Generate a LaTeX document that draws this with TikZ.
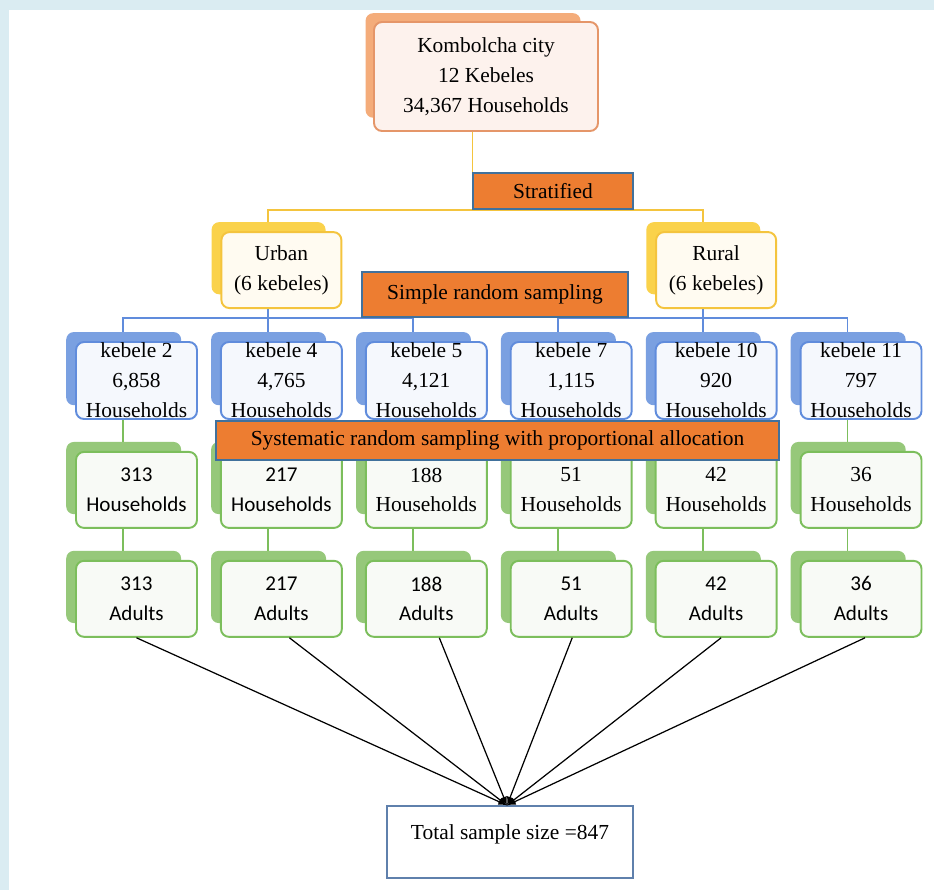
\documentclass[tikz,border=0pt]{standalone}
\usepackage{fontspec}
\setmainfont{Liberation Serif}
\newfontfamily\calibri{Carlito}
\usepackage{tikz}
\usetikzlibrary{positioning,shadows,backgrounds}
\definecolor{pageblue}{RGB}{218,236,242}
\definecolor{orangeback}{RGB}{244,172,122}
\definecolor{orangefront}{RGB}{253,242,237}
\definecolor{orangeline}{RGB}{229,150,105}
\definecolor{yellowback}{RGB}{250,210,75}
\definecolor{yellowfront}{RGB}{255,251,241}
\definecolor{yellowline}{RGB}{244,196,62}
\definecolor{blueback}{RGB}{122,160,225}
\definecolor{bluefront}{RGB}{245,248,253}
\definecolor{blueline}{RGB}{96,140,220}
\definecolor{greenback}{RGB}{150,200,122}
\definecolor{greenfront}{RGB}{248,250,246}
\definecolor{greenline}{RGB}{124,190,92}
\definecolor{method}{RGB}{237,125,49}
\definecolor{methodline}{RGB}{65,113,156}
\definecolor{totalline}{RGB}{95,128,172}
\tikzset{
  box/.style={rectangle, rounded corners=0.16cm, line width=1.1pt, align=center,
    inner sep=0pt, font=\fontsize{12.2}{17}\selectfont},
  citybox/.style={box, draw=orangeline, fill=orangefront, minimum width=4.48cm, minimum height=2.18cm,
    general shadow={fill=orangeback, shadow xshift=-0.27cm, shadow yshift=0.23cm, shadow scale=0.96}},
  zonebox/.style={box, draw=yellowline, fill=yellowfront, minimum width=2.4cm, minimum height=1.52cm,
    general shadow={fill=yellowback, shadow xshift=-0.27cm, shadow yshift=0.25cm, shadow scale=0.95}},
  kebbox/.style={box, draw=blueline, fill=bluefront, minimum width=2.42cm, minimum height=1.54cm,
    general shadow={fill=blueback, shadow xshift=-0.27cm, shadow yshift=0.25cm, shadow scale=0.95}},
  sampbox/.style={box, draw=greenline, fill=greenfront, minimum width=2.42cm, minimum height=1.52cm,
    general shadow={fill=greenback, shadow xshift=-0.27cm, shadow yshift=0.25cm, shadow scale=0.95}},
  sansbox/.style={sampbox, font=\calibri\fontsize{12}{17}\selectfont},
  methodbox/.style={rectangle, draw=methodline, line width=0.9pt, fill=method, inner sep=0pt,
    font=\fontsize{12.2}{17}\selectfont},
  yline/.style={draw=yellowline, line width=1.1pt},
  bline/.style={draw=blueline, line width=1.1pt},
  gline/.style={draw=greenline, line width=1.1pt},
  arrowline/.style={draw=black, line width=0.7pt, -latex}
}
\begin{document}
\begin{tikzpicture}[x=0.02cm, y=-0.02cm]
\useasboundingbox (0,0) rectangle (934,890);

% nodes
\node[citybox] (city) at (486,76.5) {Kombolcha city\\12 Kebeles\\34,367 Households};
\node[methodbox, minimum width=3.2cm, minimum height=0.72cm] (strat) at (553,191) {Stratified};

\node[kebbox] (k2) at (136.5,380.5) {kebele 2\\6,858\\Households};
\node[kebbox, right=0.44cm of k2] (k4) {kebele 4\\4,765\\Households};
\node[kebbox, right=0.44cm of k4] (k5) {kebele 5\\4,121\\Households};
\node[kebbox, right=0.44cm of k5] (k7) {kebele 7\\1,115\\Households};
\node[kebbox, right=0.44cm of k7] (k10) {kebele 10\\920\\Households};
\node[kebbox, right=0.44cm of k10] (k11) {kebele 11\\797\\Households};

\node[zonebox, above=0.64cm of k4] (urban) {Urban\\(6 kebeles)};
\node[zonebox, above=0.64cm of k10] (rural) {Rural\\(6 kebeles)};
\node[methodbox, minimum width=5.32cm, minimum height=0.9cm] (simple) at (495,294.5) {Simple random sampling};

\node[sansbox, below=0.62cm of k2] (h2) {313\\Households};
\node[sansbox, below=0.62cm of k4] (h4) {217\\Households};
\node[sampbox, below=0.62cm of k5] (h5) {188\\Households};
\node[sampbox, below=0.62cm of k7] (h7) {51\\Households};
\node[sampbox, below=0.62cm of k10] (h10) {42\\Households};
\node[sampbox, below=0.62cm of k11] (h11) {36\\Households};

\node[sansbox, below=0.62cm of h2] (a2) {313\\Adults};
\node[sansbox, below=0.62cm of h4] (a4) {217\\Adults};
\node[sansbox, below=0.62cm of h5] (a5) {188\\Adults};
\node[sansbox, below=0.62cm of h7] (a7) {51\\Adults};
\node[sansbox, below=0.62cm of h10] (a10) {42\\Adults};
\node[sansbox, below=0.62cm of h11] (a11) {36\\Adults};

\node[methodbox, minimum width=11.26cm, minimum height=0.78cm] (syst) at (497.5,440.5)
  {Systematic random sampling with proportional allocation};

\node[rectangle, draw=totalline, line width=0.8pt, fill=white, minimum width=4.92cm, minimum height=1.44cm,
  inner sep=0pt, text depth=0.4cm, font=\fontsize{12.2}{17}\selectfont] (total) at (510,842) {Total sample size =847};

% back box centres
\foreach \n in {city,urban,rural,k2,k4,k5,k7,k10,k11,h2,h4,h5,h7,h10,h11,a2,a4,a5,a7,a10,a11}
  \coordinate (\n-bk) at ([shift={(-0.27cm,0.25cm)}]\n.center);

% edges
\begin{scope}[on background layer]
\fill[pageblue] (0,0) rectangle (934,890);
\fill[white] (9,10) rectangle (934,890);
\draw[yline] (city-bk) -- (city-bk |- strat.south);
\draw[yline] (urban-bk) |- (strat.south) -| (rural-bk);
\draw[bline] (urban-bk) -- (k4-bk);
\draw[bline] (k2-bk) |- (k5-bk |- simple.south) -- (k5-bk);
\draw[bline] (rural-bk) -- (k10-bk);
\draw[bline] (k7-bk) |- (k11-bk |- simple.south) -- (k11-bk);
\foreach \k in {2,4,5,7,10,11}
  \draw[gline] (k\k-bk) -- (h\k-bk) -- (a\k-bk);
\end{scope}

\foreach \n/\dx in {a2/0, a4/8, a5/13, a7/1, a10/5, a11/4}
  \draw[arrowline] ([xshift=\dx*0.02cm]\n.south) -- ([xshift=-0.06cm]total.north);
\end{tikzpicture}
\end{document}
